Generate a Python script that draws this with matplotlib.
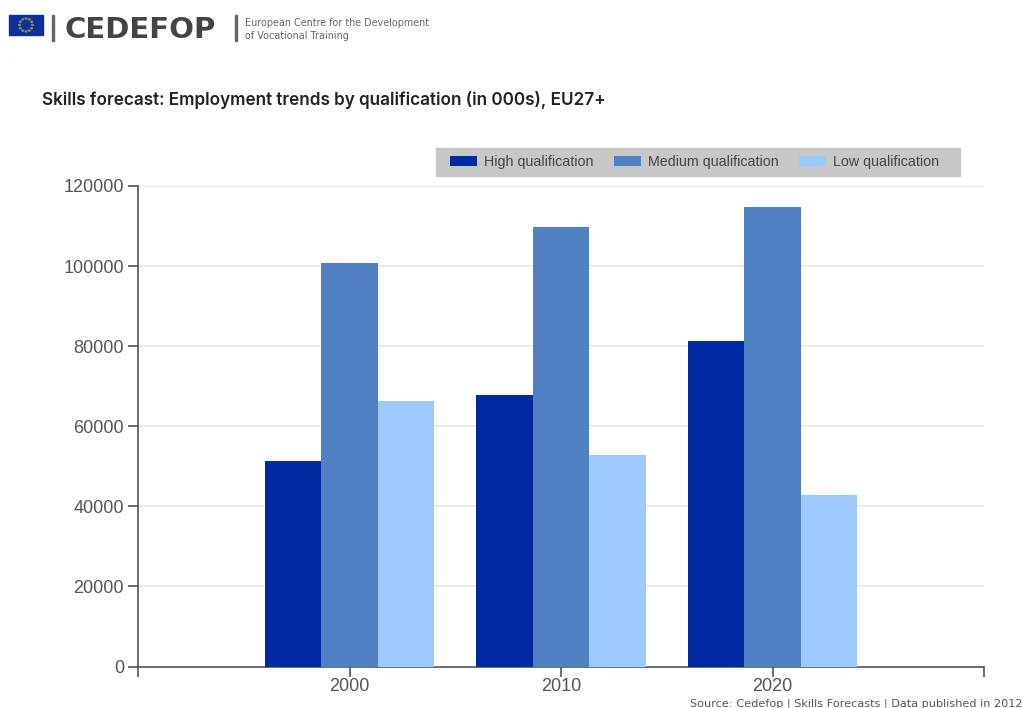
import numpy as np
import matplotlib
matplotlib.use("Agg")
import matplotlib.pyplot as plt
from matplotlib.patches import Rectangle, Circle

# values (in 000s)
years = ["2000", "2010", "2020"]
high = [51200, 67800, 81300]
medium = [100800, 109800, 114800]
low = [66300, 52800, 42800]
y_ticks = [0, 20000, 40000, 60000, 80000, 100000, 120000]

W, H = 1023, 708
plt.rcParams['font.family'] = ['Liberation Sans', 'DejaVu Sans']

fig = plt.figure(figsize=(W / 100, H / 100), dpi=100)
ax = fig.add_axes([138 / W, 1 - 666.5 / H, 846 / W, 480.5 / H])

x = np.arange(len(years))
w = 0.2667
ax.bar(x - w, high, w, color="#0029a3", label="High qualification", zorder=3)
ax.bar(x, medium, w, color="#4f80c2", label="Medium qualification", zorder=3)
ax.bar(x + w, low, w, color="#9ccaff", label="Low qualification", zorder=3)

ax.set_xlim(-1, 3)
ax.set_ylim(0, 120000)
ax.set_yticks(y_ticks)
ax.set_xticks([-1, 0, 1, 2, 3])
ax.set_xticklabels(["", "2000", "2010", "2020", ""])
ax.grid(axis="y", color="#e6e6e6", linewidth=1.2, zorder=0)
ax.tick_params(axis="both", length=7, width=1.2, color="#555555",
               labelcolor="#555555", labelsize=13, pad=3)
ax.tick_params(axis="x", pad=1)
for s in ["top", "right"]:
    ax.spines[s].set_visible(False)
for s in ["left", "bottom"]:
    ax.spines[s].set_color("#555555")
    ax.spines[s].set_linewidth(1.2)

# legend box
fig.add_artist(Rectangle((436 / W, 1 - 176 / H), 524 / W, 28 / H,
                         transform=fig.transFigure, color="#c8c8c8", zorder=-1))
leg = ax.legend(loc="center", bbox_to_anchor=(694.5 / W, 1 - 162 / H),
                bbox_transform=fig.transFigure, ncol=3, frameon=False,
                fontsize=10.3, labelcolor="#444444", handlelength=1.89,
                handleheight=0.7, handletextpad=0.49, columnspacing=1.4)
leg.set_zorder(10)

# titles
fig.text(42 / W, 1 - 100 / H, "Skills forecast: Employment trends by qualification (in 000s), EU27+",
         fontsize=12.3, color="#222222", va="center", family="Inter", fontweight="semibold")
fig.text(1023 / W, 1 - 703.5 / H, "Source: Cedefop | Skills Forecasts | Data published in 2012",
         fontsize=8.1, color="#555555", va="center", ha="right", family="DejaVu Sans")

# logo
fig.add_artist(Rectangle((9 / W, 1 - 35 / H), 34 / W, 20 / H,
                         transform=fig.transFigure, color="#0d2f9c"))
for a in np.deg2rad(np.arange(0, 360, 30)):
    fig.add_artist(Circle(((26 + 6.5 * np.cos(a)) / W, 1 - (25 + 6.5 * np.sin(a)) / H), 0.0008,
                          transform=fig.transFigure, color="#8a8f50"))
fig.add_artist(Rectangle((52 / W, 1 - 41 / H), 2 / W, 26 / H,
                         transform=fig.transFigure, color="#666666"))
fig.add_artist(Rectangle((235 / W, 1 - 41 / H), 2 / W, 26 / H,
                         transform=fig.transFigure, color="#666666"))
fig.text(64 / W, 1 - 30 / H, "CEDEFOP", fontsize=21, color="#444444", va="center",
         family="DejaVu Sans", fontweight="bold")
fig.text(245 / W, 1 - 23 / H, "European Centre for the Development", fontsize=6.9,
         color="#666666", va="center", family="DejaVu Sans")
fig.text(245 / W, 1 - 36 / H, "of Vocational Training", fontsize=6.9,
         color="#666666", va="center", family="DejaVu Sans")

fig.savefig("out.png", dpi=100)
